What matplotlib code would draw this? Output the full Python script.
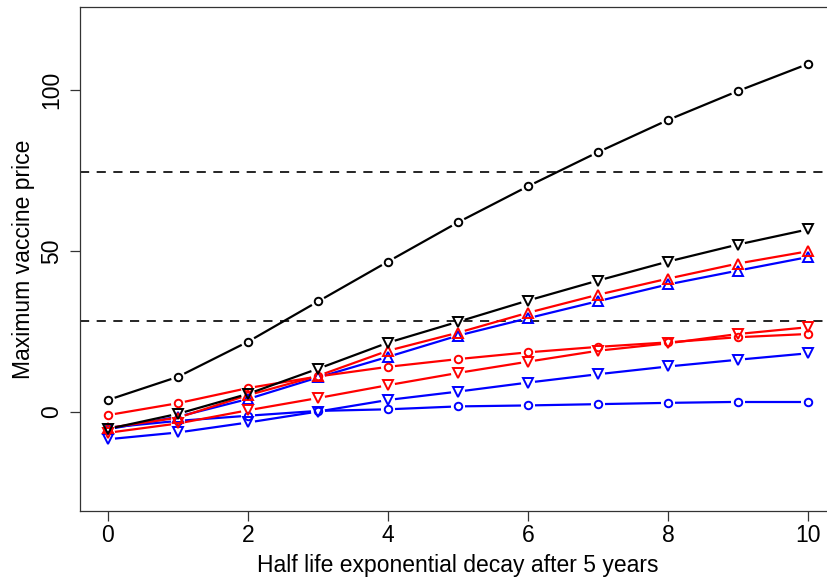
import numpy as np
import matplotlib
matplotlib.use("Agg")
import matplotlib.pyplot as plt

plt.rcParams['font.family'] = ['Liberation Sans', 'DejaVu Sans']

# half-life values on the x axis
half_life = [0, 1, 2, 3, 4, 5, 6, 7, 8, 9, 10]

# maximum vaccine price for each scenario
black_circle = [3.7, 10.9, 21.8, 34.3, 46.7, 58.9, 70.1, 80.7, 90.7, 99.7, 108.1]
black_down = [-5.3, -0.6, 5.6, 13.4, 21.5, 28.0, 34.6, 40.8, 46.7, 52.0, 56.7]
red_up = [-5.0, -1.8, 5.2, 11.2, 19.0, 24.6, 30.8, 36.4, 41.4, 46.1, 49.9]
blue_up = [-5.4, -1.5, 4.0, 10.7, 17.1, 23.7, 29.1, 34.4, 39.6, 43.9, 48.1]
red_circle = [-1.0, 2.7, 7.4, 11.0, 14.0, 16.4, 18.5, 20.2, 21.6, 23.2, 24.2]
red_down = [-6.5, -3.6, 0.5, 4.3, 8.3, 12.1, 15.6, 19.0, 21.3, 24.2, 26.3]
blue_down = [-8.5, -6.4, -3.3, 0.1, 3.7, 6.3, 9.1, 11.7, 14.1, 16.2, 18.2]
blue_circle = [-4.9, -2.8, -1.2, 0.3, 0.8, 1.7, 2.0, 2.4, 2.8, 3.1, 3.1]

# reference price thresholds
thresholds = [74.5, 28.3]

series = [
    (blue_circle, 'blue', 'o'),
    (blue_down, 'blue', 'v'),
    (blue_up, 'blue', '^'),
    (red_down, 'red', 'v'),
    (red_circle, 'red', 'o'),
    (red_up, 'red', '^'),
    (black_down, 'black', 'v'),
    (black_circle, 'black', 'o'),
]

fig = plt.figure(figsize=(8.27, 5.80), dpi=100)
ax = fig.add_axes([80 / 827, 1 - 511 / 580, 756 / 827, 504 / 580])
ax.set_xlim(-0.4, 10.4)
ax.set_ylim(-30.8, 125.8)

for y in thresholds:
    ax.axhline(y, color='black', lw=1.2, ls=(0, (5.5, 4.5)))


def gapped(ax, x, y, color, gap=7.0):
    # segments between points, shortened by `gap` pixels at each end
    pts = ax.transData.transform(np.column_stack([x, y]))
    inv = ax.transData.inverted()
    for p0, p1 in zip(pts[:-1], pts[1:]):
        d = p1 - p0
        L = np.hypot(*d)
        if L <= 2 * gap:
            continue
        u = d / L
        a = inv.transform(p0 + u * gap)
        b = inv.transform(p1 - u * gap)
        ax.plot([a[0], b[0]], [a[1], b[1]], color=color, lw=1.6,
                solid_capstyle='butt')


for vals, color, mk in series:
    gapped(ax, half_life, vals, color)
    ms = 5.4 if mk == 'o' else 7.0
    ax.plot(half_life, vals, ls='none', marker=mk, ms=ms, mfc='none',
            mec=color, mew=1.4)

for s in ax.spines.values():
    s.set_color('#333333')
    s.set_linewidth(0.9)

fs = 16.5
ax.set_xticks([0, 2, 4, 6, 8, 10])
ax.set_yticks([0, 50, 100])
ax.tick_params(axis='x', length=7, width=0.9, labelsize=fs, pad=2.5,
               color='#333333')
ax.tick_params(axis='y', length=7, width=0.9, labelsize=fs, pad=5,
               color='#333333')
for lab in ax.get_yticklabels():
    lab.set_rotation(90)
    lab.set_va('center')

ax.set_xlabel('Half life exponential decay after 5 years', fontsize=fs,
              labelpad=5)
ax.set_ylabel('Maximum vaccine price', fontsize=fs, labelpad=4)

fig.savefig('out.png', dpi=100)
